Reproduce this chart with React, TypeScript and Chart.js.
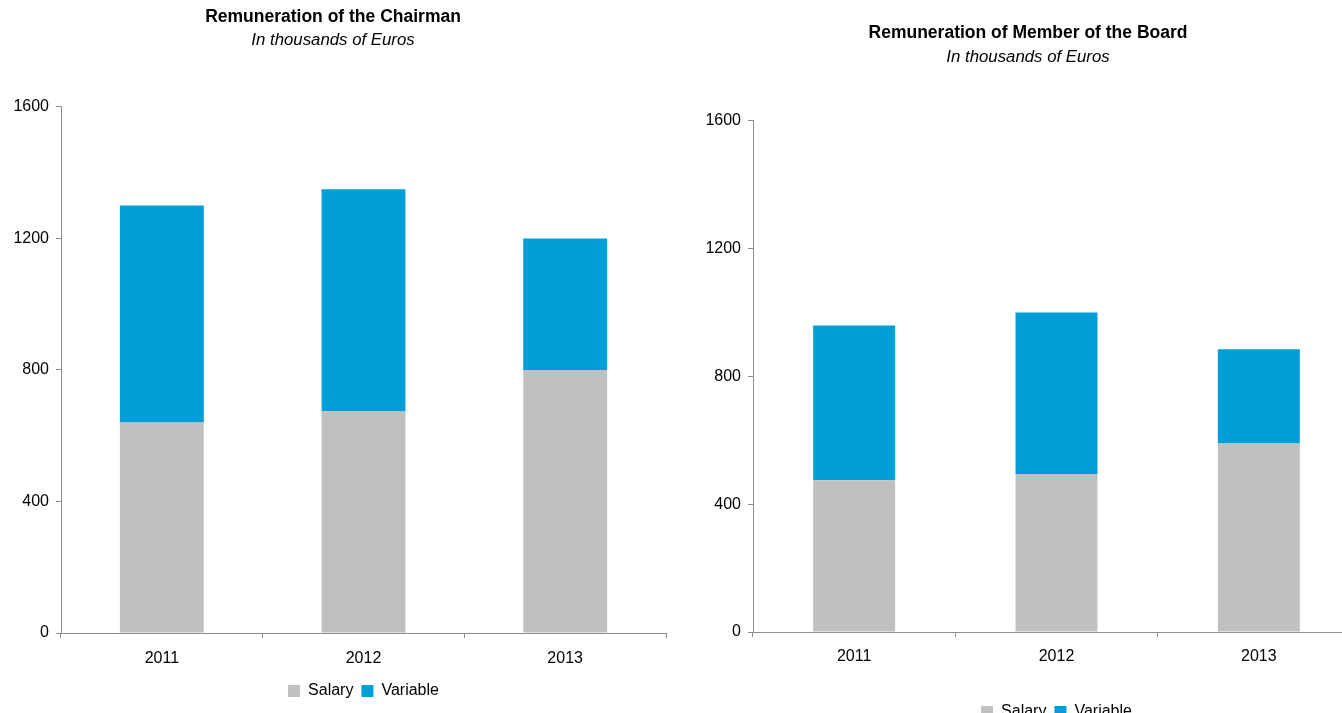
import React, { useEffect, useRef } from "react";
import { Chart, registerables } from "chart.js";

Chart.register(...registerables);

const years = ["2011", "2012", "2013"];
const chairmanSalary = [640, 675, 800];
const chairmanVariable = [660, 675, 400];
const boardSalary = [475, 495, 590];
const boardVariable = [485, 505, 295];
const seriesNames = ["Salary", "Variable"];
const yMax = 1600;
const yStep = 400;

const SALARY_COLOR = "#C0C0C0";
const VARIABLE_COLOR = "#009ED8";
const AXIS_COLOR = "#8C8C8C";
const FONT = "'Liberation Sans', Arial, sans-serif";

type PanelProps = {
  title: string;
  subtitle: string;
  salary: number[];
  variable: number[];
  left: number;
  top: number;
  width: number;
  height: number;
  padRight: number;
  padBottom: number;
  titlePadTop: number;
  titlePadBottom: number;
  subPadBottom: number;
  yWidth: number;
  xHeight: number;
  xTickPad: number;
  barPct: number;
};

function Panel(p: PanelProps) {
  const ref = useRef<HTMLCanvasElement | null>(null);
  useEffect(() => {
    if (!ref.current) return;
    const chart = new Chart(ref.current, {
      type: "bar",
      data: {
        labels: years,
        datasets: [
          {
            label: seriesNames[0],
            data: p.salary,
            backgroundColor: SALARY_COLOR,
            borderWidth: 0,
            barPercentage: p.barPct,
            categoryPercentage: 1,
          },
          {
            label: seriesNames[1],
            data: p.variable,
            backgroundColor: VARIABLE_COLOR,
            borderWidth: 0,
            barPercentage: p.barPct,
            categoryPercentage: 1,
          },
        ],
      },
      options: {
        responsive: false,
        animation: false,
        layout: { padding: { left: 0, top: 0, right: p.padRight, bottom: p.padBottom } },
        plugins: {
          tooltip: { enabled: false },
          title: {
            display: true,
            text: p.title,
            color: "#000",
            font: { family: FONT, size: 17.5, weight: "bold", lineHeight: 1.2 },
            padding: { top: p.titlePadTop, bottom: p.titlePadBottom },
          },
          subtitle: {
            display: true,
            text: p.subtitle,
            color: "#000",
            font: { family: FONT, size: 16.8, style: "italic", lineHeight: 1.2 },
            padding: { top: 0, bottom: p.subPadBottom },
          },
          legend: {
            display: true,
            position: "bottom",
            fullSize: false,
            labels: {
              color: "#000",
              font: { family: FONT, size: 16 },
              boxWidth: 12,
              boxHeight: 12,
              padding: 8,
            },
          },
        },
        scales: {
          x: {
            stacked: true,
            offset: true,
            grid: {
              display: true,
              offset: true,
              drawOnChartArea: false,
              drawTicks: true,
              tickLength: 5,
              color: AXIS_COLOR,
            },
            border: { display: true, color: AXIS_COLOR, width: 1 },
            ticks: {
              color: "#000",
              font: { family: FONT, size: 16 },
              padding: p.xTickPad,
              maxRotation: 0,
            },
            afterFit: (scale: any) => {
              scale.height = p.xHeight;
            },
          },
          y: {
            stacked: true,
            min: 0,
            max: yMax,
            grid: {
              display: true,
              drawOnChartArea: false,
              drawTicks: true,
              tickLength: 5,
              color: AXIS_COLOR,
            },
            border: { display: true, color: AXIS_COLOR, width: 1 },
            ticks: {
              stepSize: yStep,
              color: "#000",
              font: { family: FONT, size: 16 },
              padding: 7,
              callback: (v: any) => String(v),
            },
            afterFit: (scale: any) => {
              scale.width = p.yWidth;
            },
          },
        },
      },
    });
    return () => chart.destroy();
  }, []);
  return (
    <canvas
      ref={ref}
      width={p.width}
      height={p.height}
      style={{ position: "absolute", left: p.left, top: p.top, width: p.width, height: p.height }}
    />
  );
}

export default function App() {
  return (
    <div
      style={{
        position: "absolute",
        left: 0,
        top: 0,
        width: 1342,
        height: 713,
        overflow: "hidden",
        background: "#fff",
      }}
    >
      <Panel
        title="Remuneration of the Chairman"
        subtitle="In thousands of Euros"
        salary={chairmanSalary}
        variable={chairmanVariable}
        left={0}
        top={0}
        width={676}
        height={713}
        padRight={10}
        padBottom={4}
        titlePadTop={6.5}
        titlePadBottom={2.4}
        subPadBottom={56.9}
        yWidth={61}
        xHeight={42}
        xTickPad={11}
        barPct={0.416}
      />
      <Panel
        title="Remuneration of Member of the Board"
        subtitle="In thousands of Euros"
        salary={boardSalary}
        variable={boardVariable}
        left={696}
        top={0}
        width={666}
        height={740}
        padRight={2}
        padBottom={10}
        titlePadTop={22.5}
        titlePadBottom={3.4}
        subPadBottom={53.9}
        yWidth={57}
        xHeight={64}
        xTickPad={10}
        barPct={0.405}
      />
    </div>
  );
}
